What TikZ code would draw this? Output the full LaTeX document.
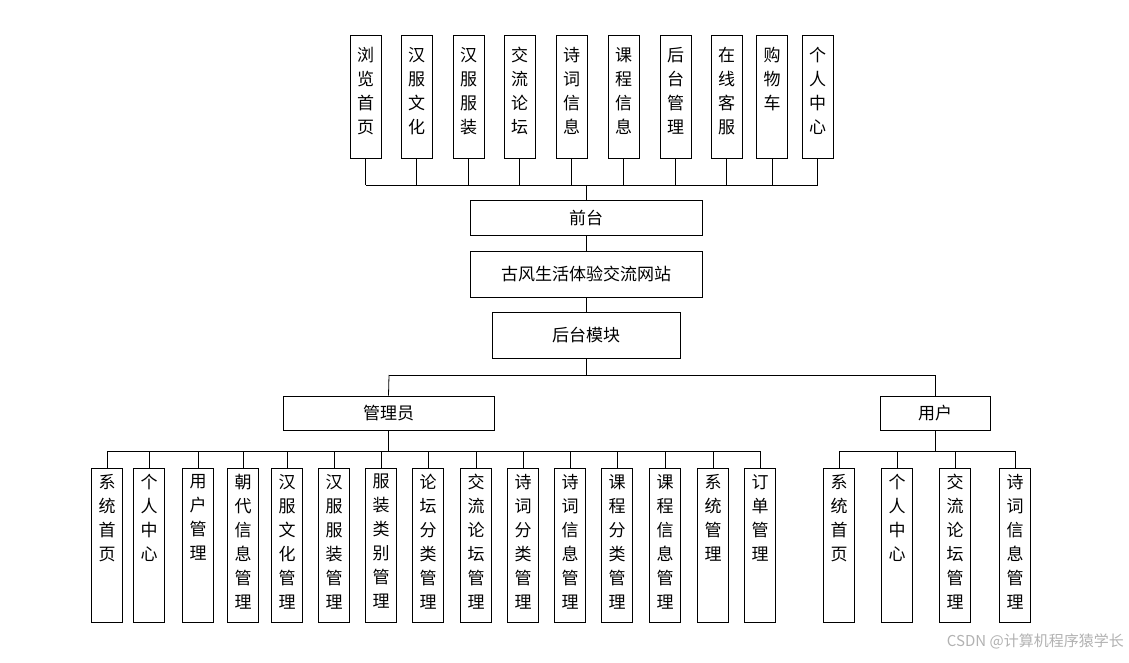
\documentclass[tikz,border=0pt]{standalone}
\usepackage{fontspec}
\setmainfont{Noto Sans CJK SC}
\begin{document}
\begin{tikzpicture}[x=1pt,y=-1pt,
 bx/.style={draw,line width=0.8pt,minimum width=31pt,inner sep=0pt,font=\fontsize{17}{24}\selectfont},
 hb/.style={draw,line width=0.8pt,inner sep=0pt,font=\fontsize{17}{20}\selectfont},
 ln/.style={line width=0.8pt}]
\fill[white] (0,0) rectangle (1129,663);
\useasboundingbox (0,0) rectangle (1129,663);
% top
\foreach \n/\x/\t in {t1/365.5/浏\\览\\首\\页, t2/416.5/汉\\服\\文\\化, t3/468.5/汉\\服\\服\\装, t4/519.5/交\\流\\论\\坛, t5/571.5/诗\\词\\信\\息, t6/623.5/课\\程\\信\\息, t7/675.5/后\\台\\管\\理, t8/726.5/在\\线\\客\\服, t9/772/购\\物\\车, t10/817.5/个\\人\\中\\心}{
  \node[bx,minimum height=123pt,anchor=north] (\n) at (\x,35) {};
  \node[font=\fontsize{17}{24}\selectfont,align=center,anchor=north,inner sep=0pt] at (\x,47) {\t};
  \draw[ln] (\n.south) -- (\x,185);
}
\draw[ln] (365.5,185) -- (817.5,185);
\node[hb,minimum width=232pt,minimum height=35pt] (qt) at (586,217.5) {前台};
\node[hb,minimum width=232pt,minimum height=46pt] (gf) at (586,274) {古风生活体验交流网站};
\node[hb,minimum width=188pt,minimum height=46pt] (ht) at (586,335) {后台模块};
\draw[ln] (586,185) -- (qt.north);
\draw[ln] (qt.south) -- (gf.north);
\draw[ln] (gf.south) -- (ht.north);
\draw[ln] (ht.south) -- (586,375);
\draw[ln] (389,375) -- (935,375);
\node[hb,minimum width=211pt,minimum height=34pt] (gl) at (388.5,413) {管理员};
\node[hb,minimum width=110pt,minimum height=34pt] (yh) at (935,413) {用户};
\draw[ln] (389,375) -- (gl.north);
\draw[ln] (935,375) -- (yh.north);
\draw[ln] (gl.south) -- (388.5,451);
\draw[ln] (yh.south) -- (935,451);
\draw[ln] (107,451) -- (760,451);
\draw[ln] (839,451) -- (1015,451);
\foreach \n/\x/\t in {a1/107/系\\统\\首\\页, a2/149/个\\人\\中\\心, a3/198/用\\户\\管\\理, a4/243/朝\\代\\信\\息\\管\\理, a5/287/汉\\服\\文\\化\\管\\理, a6/334/汉\\服\\服\\装\\管\\理, a7/381/服\\装\\类\\别\\管\\理, a8/428/论\\坛\\分\\类\\管\\理, a9/476/交\\流\\论\\坛\\管\\理, a10/523/诗\\词\\分\\类\\管\\理, a11/570/诗\\词\\信\\息\\管\\理, a12/617/课\\程\\分\\类\\管\\理, a13/665/课\\程\\信\\息\\管\\理, a14/713/系\\统\\管\\理, a15/760/订\\单\\管\\理, u1/839/系\\统\\首\\页, u2/897/个\\人\\中\\心, u3/955/交\\流\\论\\坛\\管\\理, u4/1015/诗\\词\\信\\息\\管\\理}{
  \node[bx,minimum height=154pt,anchor=north] (\n) at (\x,468) {};
  \node[font=\fontsize{17}{24}\selectfont,align=center,anchor=north,inner sep=0pt] at (\x,474) {\t};
  \draw[ln] (\x,451) -- (\n.north);
}
\node[anchor=east,text=gray!60,font=\fontsize{15}{18}\selectfont,inner sep=0pt] (wm) at (1124,641) {CSDN @计算机程序猿学长};
\end{tikzpicture}
\end{document}
